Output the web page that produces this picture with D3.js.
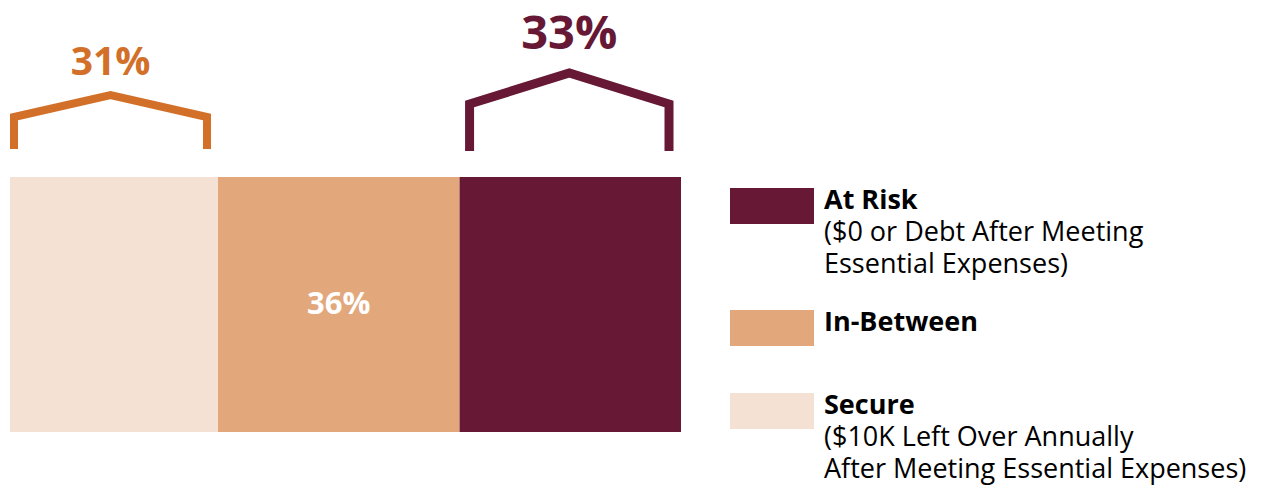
<!DOCTYPE html>
<html>
<head>
<meta charset="utf-8">
<script src="https://cdn.jsdelivr.net/npm/d3@7"></script>
<style>
  html, body { margin: 0; padding: 0; background: #fff; }
  svg { display: block; }
  text { font-family: "Open Sans", "Noto Sans", sans-serif; }
</style>
</head>
<body>
<svg id="chart" width="1268" height="485"></svg>
<script>
// Share of households by financial position after essential expenses
const categories = ["Secure", "In-Between", "At Risk"];
const values = [31, 36, 33];
const colors = ["#F5E1D3", "#E2A87C", "#661834"];

// Legend entries (top to bottom) with subtitle lines
const legendNames = ["At Risk", "In-Between", "Secure"];
const legendNotes = [
  ["($0 or Debt After Meeting", "Essential Expenses)"],
  [],
  ["($10K Left Over Annually", "After Meeting Essential Expenses)"]
];

// Callout brackets above the outer segments
const bracketCats = ["Secure", "At Risk"];
const bracketColors = ["#D2702A", "#661834"];

const svg = d3.select("#chart");

const x = d3.scaleLinear().domain([0, d3.sum(values)]).range([10, 681]);
const barTop = 177, barBottom = 432;

// stacked segments
let acc = 0;
const segs = categories.map((c, i) => {
  const s = { cat: c, value: values[i], color: colors[i], x0: acc, x1: acc + values[i] };
  acc += values[i];
  return s;
});

svg.append("g").selectAll("rect")
  .data(segs)
  .join("rect")
  .attr("x", d => x(d.x0))
  .attr("y", barTop)
  .attr("width", d => x(d.x1) - x(d.x0))
  .attr("height", barBottom - barTop)
  .attr("fill", d => d.color);

// value inside the middle segment
const mid = segs[1];
svg.append("text")
  .attr("x", (x(mid.x0) + x(mid.x1)) / 2)
  .attr("y", 314)
  .attr("text-anchor", "middle")
  .attr("font-size", 31)
  .attr("font-weight", 700)
  .attr("fill", "#fff")
  .text(mid.value + "%");

// brackets: per-bracket geometry (insets from segment edges, heights)
const bracketGeom = [
  { inL: 4, inR: 11, foot: 149, shoulder: 117, peak: 95, w: 8, labelY: 75, fs: 39 },
  { inL: 10, inR: 12, foot: 151, shoulder: 104, peak: 73, w: 9, labelY: 49, fs: 47 }
];

bracketCats.forEach((c, i) => {
  const s = segs.find(d => d.cat === c);
  const g = bracketGeom[i];
  const l = x(s.x0) + g.inL, r = x(s.x1) - g.inR, m = (l + r) / 2;
  const line = d3.line();
  svg.append("path")
    .attr("d", line([[l, g.foot], [l, g.shoulder], [m, g.peak], [r, g.shoulder], [r, g.foot]]))
    .attr("fill", "none")
    .attr("stroke", bracketColors[i])
    .attr("stroke-width", g.w)
    .attr("stroke-linejoin", "miter");
  svg.append("text")
    .attr("x", m)
    .attr("y", g.labelY)
    .attr("text-anchor", "middle")
    .attr("font-size", g.fs)
    .attr("font-weight", 700)
    .attr("fill", bracketColors[i])
    .text(s.value + "%");
});

// legend
const legendTops = [188, 310, 393];
const legend = svg.append("g");
legendNames.forEach((name, i) => {
  const ci = categories.indexOf(name);
  const top = legendTops[i];
  legend.append("rect")
    .attr("x", 730).attr("y", top)
    .attr("width", 84).attr("height", 36)
    .attr("fill", colors[ci]);
  const t = legend.append("text")
    .attr("x", 824)
    .attr("y", top + 21)
    .attr("fill", "#000");
  t.append("tspan")
    .attr("font-size", 27)
    .attr("font-weight", 700)
    .text(name);
  legendNotes[i].forEach(line => {
    t.append("tspan")
      .attr("x", 824)
      .attr("dy", 32)
      .attr("font-size", 27)
      .attr("font-weight", 400)
      .text(line);
  });
});
</script>
</body>
</html>
